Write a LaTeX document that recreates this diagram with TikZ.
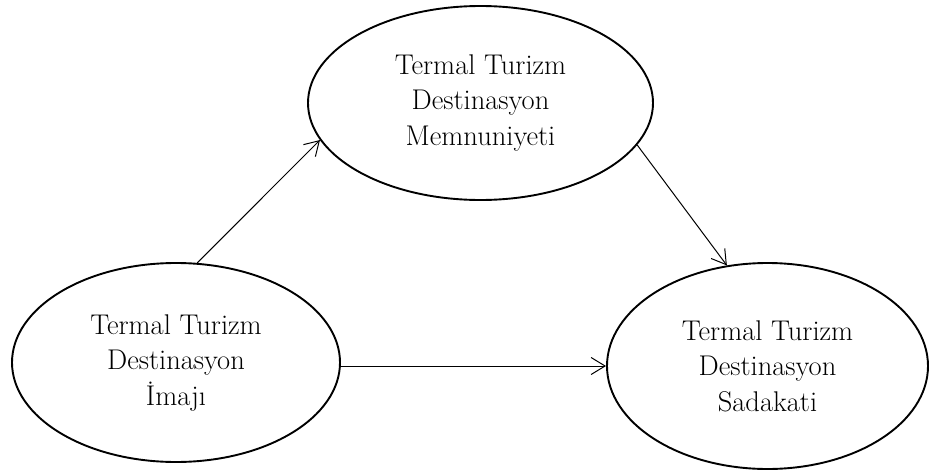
\documentclass[tikz,border=0pt]{standalone}
\usetikzlibrary{arrows.meta,shapes.geometric}
\begin{document}
\begin{tikzpicture}[x=1pt,y=-1pt,
  construct/.style={ellipse,draw,line width=1.9pt,inner sep=0pt,align=center,
    font=\fontsize{28.5}{35.5}\selectfont},
  link/.style={line width=1pt,-{Straight Barb[length=14pt,width=17pt,line width=1pt]}}]
\useasboundingbox (0,0) rectangle (930,474);
\node[construct,minimum width=345pt,minimum height=194pt] (mem) at (480.5,103)
  {Termal Turizm\\Destinasyon\\Memnuniyeti};
\node[construct,minimum width=328pt,minimum height=199pt] (ima) at (176,362.5)
  {Termal Turizm\\Destinasyon\\İmajı};
\node[construct,minimum width=321pt,minimum height=206pt] (sad) at (767.5,366)
  {Termal Turizm\\Destinasyon\\Sadakati};
\draw[link] (ima.78) -- (mem.193.4);
\draw[link] (sad.west -| ima.east) -- (sad.west);
\draw[link] (mem.-15.3) -- (sad.112.5);
\end{tikzpicture}
\end{document}
